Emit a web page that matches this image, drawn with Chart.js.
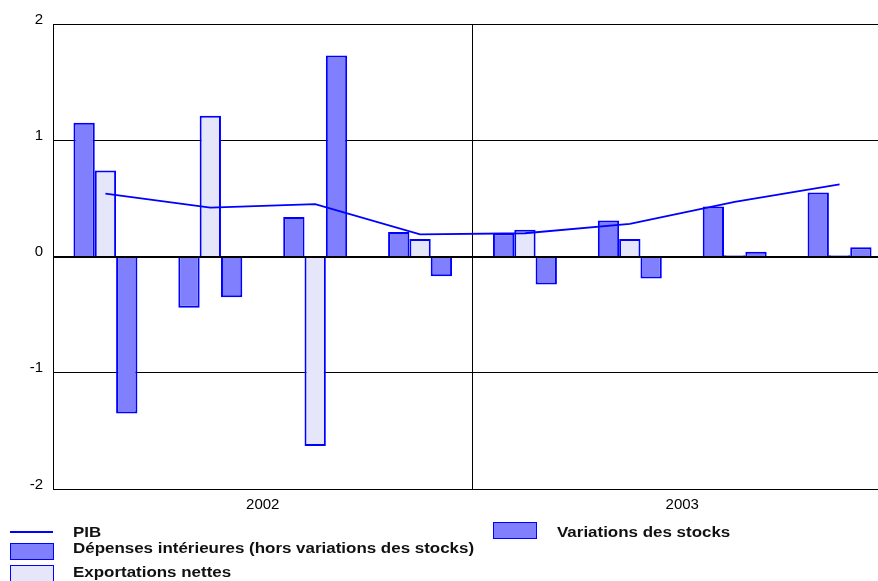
<!DOCTYPE html>
<html lang="fr">
<head>
<meta charset="utf-8">
<title>Contributions à la croissance du PIB</title>
<script src="https://cdn.jsdelivr.net/npm/chart.js@4/dist/chart.umd.min.js"></script>
<style>
  html, body { margin: 0; padding: 0; background: #fff; overflow: hidden; }
  #wrap { position: relative; width: 878px; height: 581px; overflow: hidden; }
  #chart { position: absolute; left: 0; top: 0; }
  .lg-text {
    position: absolute; font-family: 'Liberation Sans', Arial, sans-serif;
    font-weight: bold; font-size: 14px; line-height: 14px; color: #111;
    white-space: nowrap; transform: scaleX(1.21); transform-origin: 0 0;
  }
  .lg-line { position: absolute; height: 2px; background: #0000ff; }
  .lg-box { position: absolute; box-sizing: border-box; border: 1.5px solid #0000ff; }
</style>
</head>
<body>
<div id="wrap">
  <canvas id="chart" width="892" height="581"></canvas>
  <div id="legend"></div>
</div>
<script>
// Quarterly contributions to GDP growth (points)
const quarters = ['T1 2002', 'T2 2002', 'T3 2002', 'T4 2002', 'T1 2003', 'T2 2003', 'T3 2003', 'T4 2003'];
const years = ['2002', '2003'];
const pib = [0.54, 0.42, 0.45, 0.19, 0.20, 0.28, 0.47, 0.62];
const depenses = [1.15, -0.44, 0.34, 0.21, 0.20, 0.31, 0.43, 0.55];
const exportations = [0.74, 1.21, -1.63, 0.15, 0.23, 0.15, 0.01, 0.01];
const variations = [-1.35, -0.35, 1.73, -0.17, -0.24, -0.19, 0.04, 0.08];
const seriesNames = ['PIB', 'Dépenses intérieures (hors variations des stocks)', 'Exportations nettes', 'Variations des stocks'];

const BLUE = '#0000ff';
const DARK = '#8080ff';
const LIGHT = '#e6e6fa';
const FONT = "'Liberation Sans', Arial, sans-serif";

// zero line drawn above the bars
const zeroLine = {
  id: 'zeroLine',
  afterDatasetsDraw(chart) {
    const { ctx, chartArea, scales } = chart;
    const y = Math.round(scales.y.getPixelForValue(0)) + 0.5;
    ctx.save();
    ctx.strokeStyle = '#000';
    ctx.lineWidth = 1;
    ctx.beginPath();
    ctx.moveTo(chartArea.left, y);
    ctx.lineTo(chartArea.right, y);
    ctx.stroke();
    ctx.restore();
  }
};

const barStyle = (fill) => ({
  backgroundColor: fill,
  borderColor: BLUE,
  borderWidth: 2,
  categoryPercentage: 0.61,
  barPercentage: 1,
  order: 1,
  xAxisID: 'x'
});

new Chart(document.getElementById('chart'), {
  type: 'bar',
  data: {
    labels: quarters,
    datasets: [
      { type: 'line', label: seriesNames[0], data: pib, borderColor: BLUE, borderWidth: 1.8,
        pointRadius: 0, tension: 0, fill: false, order: 0, xAxisID: 'x' },
      Object.assign({ label: seriesNames[1], data: depenses }, barStyle(DARK)),
      Object.assign({ label: seriesNames[2], data: exportations }, barStyle(LIGHT)),
      Object.assign({ label: seriesNames[3], data: variations }, barStyle(DARK))
    ]
  },
  options: {
    responsive: false,
    animation: false,
    devicePixelRatio: 1,
    layout: { padding: { top: 24, bottom: 62, left: 0, right: 0 } },
    plugins: { legend: { display: false }, tooltip: { enabled: false } },
    scales: {
      x: { display: false, offset: true },
      x2: {
        type: 'category',
        labels: years,
        position: 'bottom',
        offset: true,
        grid: { offset: true, color: '#000', lineWidth: 1, drawTicks: false },
        border: { display: true, color: '#000', width: 1 },
        ticks: { color: '#000', font: { family: FONT, size: 15 }, padding: 7 },
        afterFit: (s) => { s.height = 30; }
      },
      y: {
        min: -2,
        max: 2,
        grid: { color: '#000', lineWidth: 1, drawTicks: false },
        border: { display: true, color: '#000', width: 1 },
        ticks: { stepSize: 1, color: '#000', font: { family: FONT, size: 15 }, padding: 10, labelOffset: -4.5 },
        afterFit: (s) => { s.width = 53; }
      }
    }
  },
  plugins: [zeroLine]
});

// Legend: two columns below the plot
const legend = document.getElementById('legend');
const items = [
  { name: seriesNames[0], kind: 'line', x: 10, y: 531, tx: 73, ty: 525 },
  { name: seriesNames[1], kind: 'box', fill: DARK, x: 10, y: 543, tx: 73, ty: 541 },
  { name: seriesNames[2], kind: 'box', fill: LIGHT, x: 10, y: 565, tx: 73, ty: 565 },
  { name: seriesNames[3], kind: 'box', fill: DARK, x: 493, y: 522, tx: 557, ty: 525 }
];
items.forEach((it) => {
  const sym = document.createElement('div');
  if (it.kind === 'line') {
    sym.className = 'lg-line';
    sym.style.left = it.x + 'px'; sym.style.top = it.y + 'px'; sym.style.width = '43px';
  } else {
    sym.className = 'lg-box';
    sym.style.left = it.x + 'px'; sym.style.top = it.y + 'px';
    sym.style.width = '44px'; sym.style.height = '17px';
    sym.style.background = it.fill;
  }
  legend.appendChild(sym);
  const t = document.createElement('div');
  t.className = 'lg-text';
  t.style.left = it.tx + 'px'; t.style.top = it.ty + 'px';
  t.textContent = it.name;
  legend.appendChild(t);
});
</script>
</body>
</html>
